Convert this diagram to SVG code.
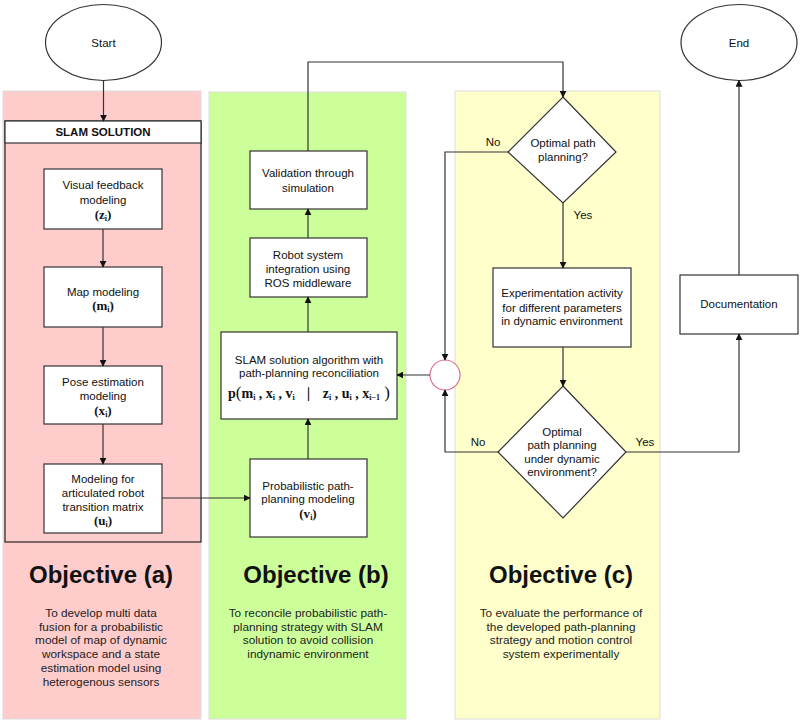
<svg xmlns="http://www.w3.org/2000/svg" width="801" height="724" viewBox="0 0 801 724">
<style>
.box{fill:#fff;stroke:#333;stroke-width:1.2}
.t{font-family:"Liberation Sans",Arial,sans-serif;font-size:11.5px;fill:#111;text-anchor:middle}
.m{font-family:"Liberation Serif","Times New Roman",serif;font-size:13px;fill:#111;text-anchor:middle;font-weight:bold}
.obj{font-family:"Liberation Sans",Arial,sans-serif;font-size:24px;font-weight:bold;fill:#111;text-anchor:middle}
.d{font-family:"Liberation Sans",Arial,sans-serif;font-size:11.8px;fill:#222;text-anchor:middle}
.c{fill:none;stroke:#333;stroke-width:1.2;marker-end:url(#ah)}
.sub{font-size:8px}
</style>
<defs>
<marker id="ah" viewBox="0 0 10 10" refX="9" refY="5" markerWidth="7" markerHeight="7" orient="auto" markerUnits="userSpaceOnUse">
<path d="M0,0 L10,5 L0,10 z" fill="#111"/>
</marker>
</defs>
<rect width="801" height="724" fill="#fff"/>
<g id="panels">
<rect x="3" y="91" width="198" height="628" fill="#ffcccc" stroke="#ddd" stroke-width="1"/>
<rect x="209" y="92" width="197" height="627" fill="#ccff99" stroke="#ddd" stroke-width="1"/>
<rect x="455" y="91" width="205" height="628" fill="#ffffcc" stroke="#ddd" stroke-width="1"/>
</g>
<g id="start">
<ellipse cx="103.5" cy="42.5" rx="58" ry="38" class="box"/>
<text x="103.5" y="46.5" class="t">Start</text>
</g>
<g id="slam-solution">
<rect x="5" y="121" width="196" height="421" fill="none" stroke="#222" stroke-width="1.2"/>
<rect x="5" y="121" width="196" height="22" class="box" stroke="#222"/>
<text x="103" y="136" class="t" style="font-weight:bold">SLAM SOLUTION</text>
</g>
<g id="visual">
<rect x="44" y="169" width="118" height="60" class="box"/>
<text x="103" y="189" class="t">Visual feedback</text>
<text x="103" y="204" class="t">modeling</text>
<text x="103" y="219" class="m">(z<tspan class="sub" dy="2">i</tspan><tspan dy="-2">)</tspan></text>
</g>
<g id="map">
<rect x="44" y="267" width="118" height="60" class="box"/>
<text x="103" y="296" class="t">Map modeling</text>
<text x="103" y="310" class="m">(m<tspan class="sub" dy="2">i</tspan><tspan dy="-2">)</tspan></text>
</g>
<g id="pose">
<rect x="44" y="366" width="118" height="58" class="box"/>
<text x="103" y="386" class="t">Pose estimation</text>
<text x="103" y="400" class="t">modeling</text>
<text x="103" y="415" class="m">(x<tspan class="sub" dy="2">i</tspan><tspan dy="-2">)</tspan></text>
</g>
<g id="articulated">
<rect x="44" y="464" width="118" height="69" class="box"/>
<text x="103" y="483" class="t">Modeling for</text>
<text x="103" y="497" class="t">articulated robot</text>
<text x="103" y="511" class="t">transition matrix</text>
<text x="103" y="525" class="m">(u<tspan class="sub" dy="2">i</tspan><tspan dy="-2">)</tspan></text>
</g>
<g id="validation">
<rect x="250" y="151" width="117" height="58" class="box"/>
<text x="308" y="177" class="t">Validation through</text>
<text x="308" y="192" class="t">simulation</text>
</g>
<g id="robot">
<rect x="250" y="238" width="117" height="59" class="box"/>
<text x="308" y="259" class="t">Robot system</text>
<text x="308" y="273" class="t">integration using</text>
<text x="308" y="287" class="t">ROS middleware</text>
</g>
<g id="slam-algo">
<rect x="221" y="332" width="176" height="87" class="box"/>
<text x="309" y="364" class="t">SLAM solution algorithm with</text>
<text x="309" y="377" class="t">path-planning reconciliation</text>
<text x="309" y="398" class="m" style="font-size:14px">p<tspan style="font-size:17px;font-weight:normal">(</tspan>m<tspan class="sub" dy="2">i</tspan><tspan dy="-2"> , x</tspan><tspan class="sub" dy="2">i</tspan><tspan dy="-2"> , v</tspan><tspan class="sub" dy="2">i</tspan><tspan dy="-2" style="font-weight:normal">&#160;&#160; ∣ &#160;&#160;</tspan><tspan>z</tspan><tspan class="sub" dy="2">i</tspan><tspan dy="-2"> , u</tspan><tspan class="sub" dy="2">i</tspan><tspan dy="-2"> , x</tspan><tspan class="sub" dy="2">i−1</tspan><tspan dy="-2" style="font-size:17px;font-weight:normal">&#160;)</tspan></text>
</g>
<g id="prob">
<rect x="250" y="459" width="117" height="78" class="box"/>
<text x="308" y="490" class="t">Probabilistic path-</text>
<text x="308" y="503" class="t">planning modeling</text>
<text x="308" y="518" class="m">(v<tspan class="sub" dy="2">i</tspan><tspan dy="-2">)</tspan></text>
</g>
<g id="merge">
<circle cx="445" cy="375" r="15" fill="#fff" stroke="#e07090" stroke-width="1.2"/>
</g>
<g id="decision1">
<polygon points="563,97 616,152 563,203 508,152" class="box"/>
<text x="563" y="147" class="t">Optimal path</text>
<text x="563" y="161" class="t">planning?</text>
</g>
<g id="experiment">
<rect x="493" y="268" width="138" height="79" class="box"/>
<text x="562" y="297" class="t">Experimentation activity</text>
<text x="562" y="312" class="t">for different parameters</text>
<text x="562" y="325" class="t">in dynamic environment</text>
</g>
<g id="decision2">
<polygon points="563,386 626,452 563,518 498,452" class="box"/>
<text x="562" y="436" class="t">Optimal</text>
<text x="562" y="449" class="t">path planning</text>
<text x="562" y="463" class="t">under dynamic</text>
<text x="562" y="476" class="t">environment?</text>
</g>
<g id="documentation">
<rect x="680" y="275" width="118" height="59" class="box"/>
<text x="739" y="308" class="t">Documentation</text>
</g>
<g id="end">
<ellipse cx="739" cy="42.5" rx="58" ry="38" class="box"/>
<text x="739" y="46.5" class="t">End</text>
</g>
<g id="connectors">
<path d="M103.5,80.5 V121" class="c"/>
<path d="M103,229 V267" class="c"/>
<path d="M103,327 V366" class="c"/>
<path d="M103,424 V464" class="c"/>
<path d="M162,498 H250" class="c"/>
<path d="M308,459 V419" class="c"/>
<path d="M308,332 V297" class="c"/>
<path d="M308,238 V209" class="c"/>
<path d="M308,151 V62 H563 V97" class="c"/>
<path d="M508,152 H445 V360" class="c"/>
<path d="M563,203 V268" class="c"/>
<path d="M563,347 V386" class="c"/>
<path d="M498,452 H445 V390" class="c"/>
<path d="M430,375 H397" class="c"/>
<path d="M626,452 H739 V334" class="c"/>
<path d="M739,275 V80.5" class="c"/>
</g>
<g id="labels">
<text x="493" y="146" class="t">No</text>
<text x="583" y="219" class="t">Yes</text>
<text x="478" y="446" class="t">No</text>
<text x="645" y="446" class="t">Yes</text>
</g>
<g id="objective-a">
<text x="101" y="583" class="obj">Objective (a)</text>
<text x="101" y="617" class="d">To develop multi data</text>
<text x="101" y="631" class="d">fusion for a probabilistic</text>
<text x="101" y="644" class="d">model of map of dynamic</text>
<text x="101" y="658" class="d">workspace and a state</text>
<text x="101" y="672" class="d">estimation model using</text>
<text x="101" y="686" class="d">heterogenous sensors</text>
</g>
<g id="objective-b">
<text x="316" y="583" class="obj">Objective (b)</text>
<text x="308" y="617" class="d">To reconcile probabilistic path-</text>
<text x="308" y="631" class="d">planning strategy with SLAM</text>
<text x="308" y="644" class="d">solution to avoid collision</text>
<text x="308" y="658" class="d">indynamic environment</text>
</g>
<g id="objective-c">
<text x="561" y="583" class="obj">Objective (c)</text>
<text x="561" y="617" class="d">To evaluate the performance of</text>
<text x="561" y="631" class="d">the developed path-planning</text>
<text x="561" y="644" class="d">strategy and motion control</text>
<text x="561" y="658" class="d">system experimentally</text>
</g>
</svg>
